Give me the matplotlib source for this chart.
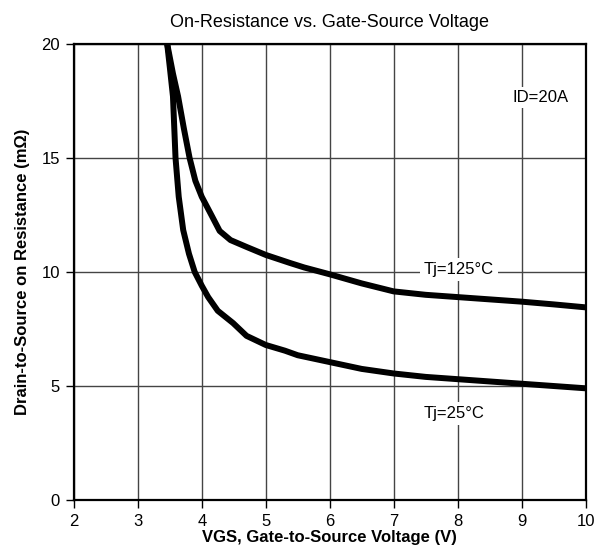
import matplotlib
matplotlib.use("Agg")
import matplotlib.pyplot as plt

plt.rcParams['font.family'] = ['Liberation Sans Narrow', 'Liberation Sans', 'DejaVu Sans']

# curva Tj=125°C
vgs_125 = [3.46, 3.55, 3.63, 3.72, 3.81, 3.9, 4.0, 4.15, 4.28, 4.45, 4.7, 5.0,
           5.375, 5.6, 6.0, 6.5, 7.0, 7.5, 8.0, 8.5, 9.0, 9.5, 10.0]
rds_125 = [20.0, 18.7, 17.7, 16.3, 15.0, 14.0, 13.3, 12.5, 11.8, 11.4, 11.1, 10.75,
           10.4, 10.2, 9.9, 9.5, 9.15, 9.0, 8.9, 8.8, 8.7, 8.58, 8.45]

# curva Tj=25°C
vgs_25 = [3.46, 3.5, 3.55, 3.59, 3.64, 3.71, 3.8, 3.89, 4.0, 4.1, 4.25, 4.49, 4.7,
          5.0, 5.3, 5.5, 6.0, 6.5, 7.0, 7.5, 8.0, 8.5, 9.0, 9.5, 10.0]
rds_25 = [20.0, 19.0, 17.7, 15.0, 13.3, 11.84, 10.8, 10.0, 9.4, 8.9, 8.3, 7.76, 7.2,
          6.8, 6.55, 6.35, 6.05, 5.75, 5.55, 5.4, 5.3, 5.2, 5.1, 5.0, 4.9]

xticks = [2, 3, 4, 5, 6, 7, 8, 9, 10]
yticks = [0, 5, 10, 15, 20]

fig = plt.figure(figsize=(6.10, 5.57), dpi=100)
ax = fig.add_axes([0.121, 0.1023, 0.839, 0.8187])

ax.plot(vgs_125, rds_125, color="black", lw=4.3, solid_joinstyle="round", solid_capstyle="butt", zorder=3)
ax.plot(vgs_25, rds_25, color="black", lw=4.3, solid_joinstyle="round", solid_capstyle="butt", zorder=3)

ax.set_xlim(2, 10)
ax.set_ylim(0, 20)
ax.set_xticks(xticks)
ax.set_yticks(yticks)
ax.grid(True, color="#444444", lw=1.0)
ax.set_axisbelow(True)
for s in ax.spines.values():
    s.set_linewidth(1.6)
    s.set_color("black")
ax.tick_params(direction="out", length=6, width=1.0, labelsize=12, pad=4)

ax.text(8.02, 10.1, "Tj=125°C", fontsize=12, ha="center", va="center",
        bbox=dict(facecolor="white", edgecolor="none", pad=3), zorder=4)
ax.text(7.95, 3.8, "Tj=25°C", fontsize=12, ha="center", va="center",
        bbox=dict(facecolor="white", edgecolor="none", pad=3), zorder=4)
ax.text(9.3, 17.65, "ID=20A", fontsize=12, ha="center", va="center",
        bbox=dict(facecolor="white", edgecolor="none", pad=2), zorder=4)

ax.set_title("On-Resistance vs. Gate-Source Voltage", fontsize=13, pad=12)
ax.set_xlabel("VGS, Gate-to-Source Voltage (V)", fontsize=12, fontweight="bold", labelpad=1)
ax.set_ylabel("Drain-to-Source on Resistance (mΩ)", fontsize=12, fontweight="bold", labelpad=8)

fig.savefig("out.png", dpi=100)
